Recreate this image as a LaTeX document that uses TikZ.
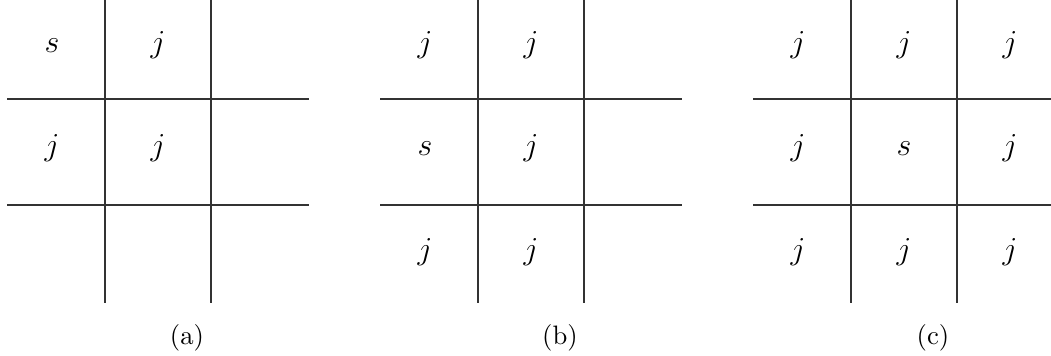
\documentclass[tikz,border=0pt]{standalone}
\usepackage{amsmath,amssymb}
\usepackage{tikz}

\begin{document}
\begin{tikzpicture}[
  x=0.375pt,y=-0.375pt,
  gridline/.style={line width=.45pt,draw=black!80},
  cell/.style={inner sep=0pt,anchor=base,font=\large},
  caption/.style={inner sep=0pt,anchor=base}
]
\useasboundingbox (0,0) rectangle (1051,356);
% the three 3x3 grids with their captions
\foreach \dx/\cap in {0/a,373/b,746/c}{
  \draw[gridline] (\dx+105,0) -- (\dx+105,303);
  \draw[gridline] (\dx+211,0) -- (\dx+211,303);
  \draw[gridline] (\dx+7,99) -- (\dx+309,99);
  \draw[gridline] (\dx+7,205) -- (\dx+309,205);
  \node[caption] (cap-\cap) at (\dx+187,344) {(\cap)};
}
% (a)
\node[cell] (a11) at (52,53) {$s$};
\node[cell] (a12) at (158,53) {$j$};
\node[cell] (a21) at (52,156) {$j$};
\node[cell] (a22) at (158,156) {$j$};
% (b)
\node[cell] (b11) at (425,53) {$j$};
\node[cell] (b12) at (531,53) {$j$};
\node[cell] (b21) at (425,156) {$s$};
\node[cell] (b22) at (531,156) {$j$};
\node[cell] (b31) at (425,259) {$j$};
\node[cell] (b32) at (531,259) {$j$};
% (c)
\node[cell] (c11) at (798,53) {$j$};
\node[cell] (c12) at (904,53) {$j$};
\node[cell] (c13) at (1010,53) {$j$};
\node[cell] (c21) at (798,156) {$j$};
\node[cell] (c22) at (904,156) {$s$};
\node[cell] (c23) at (1010,156) {$j$};
\node[cell] (c31) at (798,259) {$j$};
\node[cell] (c32) at (904,259) {$j$};
\node[cell] (c33) at (1010,259) {$j$};
\end{tikzpicture}
\end{document}
